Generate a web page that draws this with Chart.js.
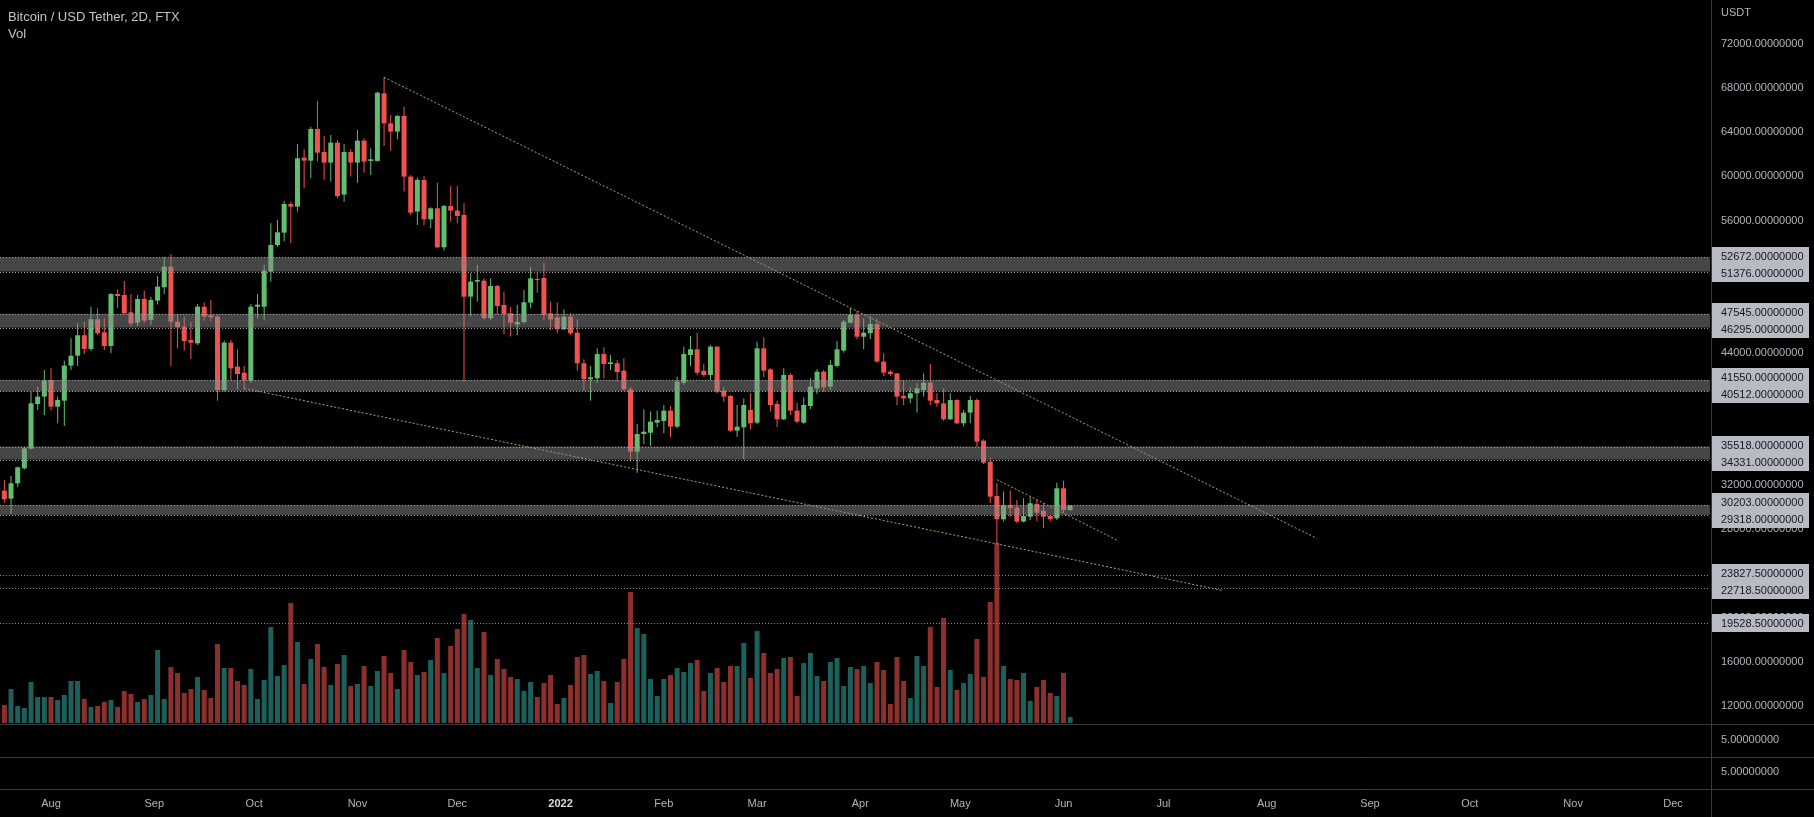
<!DOCTYPE html>
<html>
<head>
<meta charset="utf-8">
<script src="https://cdn.jsdelivr.net/npm/chart.js@4.4.1/dist/chart.umd.min.js"></script>
<style>
  html, body { margin: 0; padding: 0; background: #000; }
  #wrap { position: relative; width: 1814px; height: 817px; }
  .legend { position: absolute; left: 8px; font-family: "Liberation Sans", Arial, sans-serif; color: #c3c5cc; font-size: 13px; line-height: 15px; }
</style>
</head>
<body>
<div id="wrap">
  <canvas id="myChart" width="1814" height="817"></canvas>
  <div class="legend" style="top:9px">Bitcoin / USD Tether, 2D, FTX</div>
  <div class="legend" style="top:26px">Vol</div>
</div>
<script>
// BTC/USDT 2D candles, first candle 2021-07-16
const firstCandle = '2021-07-16';
const candleDays = 2;

const opens = [31880,31520,30790,32180,33540,35320,39370,40040,41550,39130,39670,42850,43750,45600,44360,47050,45870,44630,49340,49250,
47680,46740,48890,46990,48740,49950,51820,46830,46380,45170,44870,48190,47410,47290,40640,44930,42760,42210,41490,48190,
48190,51370,53780,54900,57500,57260,61700,61430,64300,62210,61250,63060,58350,62210,61250,63240,61400,61400,67530,64810,
64060,65480,59980,56810,59680,56110,57110,53570,57320,56900,56500,49100,50460,50550,47140,50070,48350,47590,46590,46780,
48560,50700,50790,47590,47230,46140,47290,45840,43060,41610,41700,43900,43000,43060,42390,40700,35050,36650,36770,37680,
37830,38770,37320,41300,43810,44330,42390,42000,44570,40580,40100,36950,37260,38830,37680,44420,42510,39370,37980,42000,
38770,37680,39190,40790,42300,40940,42820,44210,46740,47440,45470,45780,46620,43210,42300,42150,40100,39880,40340,40640,
41300,39730,39430,37980,39730,37620,38590,39730,36050,34150,31030,28920,30220,29980,28710,29160,30310,29700,29220,29010,
31730,29760];
const highs = [31950,32480,32850,33700,35500,40490,40940,42450,42600,40040,43300,45320,46680,46830,48190,48040,47140,49400,49760,50520,
49340,49250,49640,49100,50970,52670,52970,47440,47290,46830,48440,48560,48800,47440,45100,45170,44330,42820,48440,49340,
51970,55750,56050,57770,57710,62940,62450,64510,66860,63660,63750,63300,62940,62450,64210,63450,62540,67680,68980,65570,
65570,66320,60130,59890,60040,57200,59430,57410,59130,59130,57560,51220,51970,50760,50760,50160,49550,48190,48350,49710,
51820,51360,52180,48650,48560,47950,47590,47040,43420,42820,44420,44510,43810,43360,43510,40880,37560,38890,38680,38770,
39280,39190,41850,44570,45530,45840,43000,44720,44600,40940,40190,39280,39880,40340,45020,45410,42600,39670,42600,42150,
39490,39980,41700,42510,42450,43360,45110,46980,48040,47830,47140,47290,47050,43960,42450,42160,41550,40880,41240,42150,
43000,40340,40790,40340,39790,38830,40100,39880,36170,34450,32180,31430,31520,30670,30820,30970,30670,30370,29310,32240,
32420,30220];
const lows = [31400,30430,29400,31820,33450,35260,38830,38380,38770,37620,37380,42450,42820,43870,44180,45600,44270,43960,48040,47530,
46380,46440,46680,46530,48400,49340,42820,44420,44210,43450,44720,46920,46830,39670,40500,41550,40700,40700,41300,47140,
46930,50460,53630,54090,53940,56810,58920,59830,61340,59680,59520,58010,57710,59980,59430,60340,60130,61340,62760,62330,
63360,58620,56500,55600,55600,55290,53480,53270,55900,55750,41400,47290,48650,46990,46990,47440,45720,45480,45630,46680,
48040,49450,47000,46080,45780,46080,45620,42390,40580,39670,41300,41700,42450,41400,40580,34150,33150,35750,35560,37260,
36710,36350,37170,41090,42820,42000,41850,41550,40340,39580,36860,36410,34360,37080,37560,41790,38680,37260,37920,38370,
37620,37560,38890,40280,40490,40640,42690,44020,46680,45230,44330,45230,43120,41910,41910,39280,39280,39430,38590,40040,
39280,39130,37860,37920,37560,37320,37620,35500,33930,30370,26700,28710,29160,28560,28650,28860,28710,28100,28710,28860,
29520,29700];
const closes = [31520,30730,32180,33630,35350,39430,40040,41490,39130,39740,42850,43750,45600,44360,47050,45780,44630,49340,49160,47590,
46680,48890,46930,48800,50010,51820,46830,46320,45080,44930,48190,47290,47230,40640,44930,42600,42090,41550,48190,48370,
51460,53780,54930,57500,57260,61640,61430,64300,62150,61250,63060,58220,62210,61250,63240,61340,61550,67590,64810,64060,
65480,59980,56710,59680,56110,57110,53570,57320,56900,56410,49100,50460,50610,47140,50070,48250,47530,46740,46810,48590,
50760,50600,47440,47040,46140,47290,45780,43060,41610,41790,43900,43000,43150,42270,40700,35050,36650,36860,37770,37920,
38770,37320,41400,43900,44330,42210,42000,44570,40490,40040,36950,37320,39280,37620,44420,42390,39280,37980,42000,38770,
37770,39280,40940,42300,40880,42910,44330,46830,47440,45470,45840,46620,43210,42210,42090,40040,39880,40340,40790,41300,
39670,39430,37980,39730,37620,38590,39730,35960,34050,30970,28920,30220,29920,28710,29220,30370,29520,29160,28920,31730,
29760,30130];
const volume = [15,18,34,17,15,41,26,26,26,23,28,42,42,24,16,17,21,23,16,32,
29,21,24,28,73,24,56,50,30,34,46,33,25,79,55,55,42,38,54,24,
43,96,47,58,120,81,39,64,79,56,38,59,68,37,39,57,37,52,67,50,
34,73,61,48,51,63,85,50,77,94,109,103,55,91,48,64,54,46,44,32,
41,26,40,48,19,25,38,66,68,49,52,42,20,41,64,131,95,89,44,27,
44,48,55,51,60,63,32,50,55,41,57,57,80,45,92,70,50,54,65,66,
27,60,70,47,42,61,65,37,56,54,57,40,61,53,19,66,42,25,67,57,
96,36,105,53,33,40,49,84,46,121,180,57,44,43,50,22,36,43,30,27,
50,6];

// support / resistance zones (top, bottom) and single levels
const zoneTops = [52672, 47545, 41550, 35518, 30203];
const zoneBottoms = [51376, 46295, 40512, 34331, 29318];
const levels = [23827.5, 22718.5, 19528.5];

// trend lines [date, price]
const trendUpper = [['2021-11-09', 68980], ['2022-08-16', 27200]];
const trendLower = [['2021-09-28', 40790], ['2022-07-19', 22450]];
const trendShort = [['2022-05-12', 32510], ['2022-06-17', 27040]];

const priceTicks = [12000,16000,20000,24000,28000,32000,36000,40000,44000,48000,52000,56000,60000,64000,68000,72000];
const monthTicks = ['2021-08-01','2021-09-01','2021-10-01','2021-11-01','2021-12-01','2022-01-01','2022-02-01','2022-03-01','2022-04-01',
  '2022-05-01','2022-06-01','2022-07-01','2022-08-01','2022-09-01','2022-10-01','2022-11-01','2022-12-01'];
const monthLabels = ['Aug','Sep','Oct','Nov','Dec','2022','Feb','Mar','Apr','May','Jun','Jul','Aug','Sep','Oct','Nov','Dec'];

const upColor = '#63bd6e';
const downColor = '#ef5350';
const volUp = '#1d5f5a';
const volDown = '#8b302d';
const textColor = '#b2b5be';
const lineColor = '#363a45';
const fontFamily = '"Liberation Sans", Arial, sans-serif';

const epoch = Date.UTC(2021, 7, 1);
function dayOf(s) {
    return (Date.parse(s + 'T00:00:00Z') - epoch) / 864e5;
}
const startDay = dayOf(firstCandle);
let days = opens.map((o, i) => startDay + i * candleDays);
let isUp = opens.map((o, i) => closes[i] >= o);

let wickData = days.map((d, i) => ({ x: d, y: [lows[i], highs[i]] }));
let bodyData = days.map((d, i) => ({ x: d, y: [opens[i], closes[i]] }));
let volData = days.map((d, i) => ({ x: d, y: volume[i] }));
let candleColors = isUp.map(u => u ? upColor : downColor);
let volColors = isUp.map(u => u ? volUp : volDown);

function trendData(t) {
    return t.map(p => ({ x: dayOf(p[0]), y: p[1] }));
}

function hLine(ctx, x1, x2, y, color, dash) {
    ctx.save();
    ctx.strokeStyle = color;
    ctx.lineWidth = 1;
    ctx.setLineDash(dash || []);
    ctx.beginPath();
    ctx.moveTo(x1, Math.round(y) + 0.5);
    ctx.lineTo(x2, Math.round(y) + 0.5);
    ctx.stroke();
    ctx.restore();
}

function labelBox(ctx, x, y, text) {
    ctx.fillStyle = '#b8bbc3';
    ctx.fillRect(x, Math.round(y) - 9, 97, 18);
    ctx.fillStyle = '#131722';
    ctx.font = '11px ' + fontFamily;
    ctx.textBaseline = 'middle';
    ctx.textAlign = 'left';
    ctx.fillText(text, x + 9, Math.round(y) + 0.5);
}

// afasta rótulos que se sobrepõem no eixo
function spreadLabels(items) {
    items.sort((a, b) => a.y - b.y);
    for (let i = 1; i < items.length; i++) {
        let gap = items[i].y - items[i - 1].y;
        if (gap < 17) {
            let mid = (items[i].y + items[i - 1].y) / 2;
            items[i - 1].y = mid - 8.5;
            items[i].y = mid + 8.5;
        }
    }
    return items;
}

// Zonas e níveis
const zonesPlugin = {
    id: 'zones',
    afterDatasetsDraw(chart) {
        const { ctx, chartArea, scales } = chart;
        const y = scales.y;
        ctx.save();
        zoneTops.forEach((top, i) => {
            let y1 = y.getPixelForValue(top);
            let y2 = y.getPixelForValue(zoneBottoms[i]);
            ctx.fillStyle = 'rgba(140,140,140,0.5)';
            ctx.fillRect(chartArea.left, y1, chartArea.right - chartArea.left, y2 - y1);
            hLine(ctx, chartArea.left, chartArea.right, y1, '#a0a0a0', [1, 2]);
            hLine(ctx, chartArea.left, chartArea.right, y2, '#a0a0a0', [1, 2]);
        });
        levels.forEach(v => {
            hLine(ctx, chartArea.left, chartArea.right, y.getPixelForValue(v), '#8a8a8a', [1, 2]);
        });
        ctx.restore();
    },
    afterDraw(chart) {
        const { ctx, chartArea, scales, width, height } = chart;
        const y = scales.y;
        const base = scales.yv.getPixelForValue(0);
        ctx.save();
        // separadores de painel
        hLine(ctx, 0, width, base + 1, lineColor);
        hLine(ctx, 0, width, base + 34, lineColor);
        hLine(ctx, 0, width, chartArea.bottom, lineColor);
        ctx.strokeStyle = lineColor;
        ctx.beginPath();
        ctx.moveTo(chartArea.right + 1.5, 0);
        ctx.lineTo(chartArea.right + 1.5, height);
        ctx.stroke();

        ctx.fillStyle = textColor;
        ctx.font = '11px ' + fontFamily;
        ctx.textBaseline = 'middle';
        ctx.fillText('USDT', chartArea.right + 11, 13);
        ctx.fillText((5).toFixed(8), chartArea.right + 11, base + 17);
        ctx.fillText((5).toFixed(8), chartArea.right + 11, base + 49);

        let boxX = chartArea.right + 2;
        let items = [];
        zoneTops.forEach((top, i) => {
            items.push({ v: top, y: y.getPixelForValue(top) });
            items.push({ v: zoneBottoms[i], y: y.getPixelForValue(zoneBottoms[i]) });
        });
        levels.forEach(v => items.push({ v: v, y: y.getPixelForValue(v) }));
        spreadLabels(items).forEach(it => labelBox(ctx, boxX, it.y, it.v.toFixed(8)));
        ctx.restore();
    }
};

const trendStyle = {
    type: 'line',
    borderColor: '#a9a862',
    borderWidth: 1,
    borderDash: [2, 2],
    pointRadius: 0,
    fill: false,
    yAxisID: 'y',
    order: 0
};

const ctx = document.getElementById('myChart');

new Chart(ctx, {
    type: 'bar',
    data: {
        datasets: [
            Object.assign({ data: trendData(trendUpper) }, trendStyle),
            Object.assign({ data: trendData(trendLower) }, trendStyle),
            Object.assign({ data: trendData(trendShort) }, trendStyle),
            {
                data: bodyData,
                backgroundColor: candleColors,
                barThickness: 5,
                minBarLength: 1,
                grouped: false,
                inflateAmount: 0,
                yAxisID: 'y',
                order: 1
            },
            {
                data: wickData,
                backgroundColor: candleColors,
                barThickness: 1,
                grouped: false,
                inflateAmount: 0,
                yAxisID: 'y',
                order: 2
            },
            {
                data: volData,
                backgroundColor: volColors,
                barThickness: 5,
                grouped: false,
                inflateAmount: 0,
                yAxisID: 'yv',
                order: 3
            }
        ]
    },
    options: {
        responsive: false,
        animation: false,
        devicePixelRatio: 1,
        layout: { padding: 0, autoPadding: false },
        plugins: {
            legend: { display: false },
            tooltip: { enabled: false }
        },
        scales: {
            x: {
                type: 'linear',
                min: -15.31,
                max: 498.1,
                offset: false,
                grid: { display: false, drawTicks: false },
                border: { display: false },
                afterBuildTicks: s => { s.ticks = monthTicks.map(m => ({ value: dayOf(m) })); },
                afterFit: s => {
                    s.height = 28;
                    s.paddingLeft = 0; s.paddingRight = 0; s.paddingTop = 0; s.paddingBottom = 0;
                },
                ticks: {
                    autoSkip: false,
                    maxRotation: 0,
                    padding: 8,
                    callback: (v, i) => monthLabels[i],
                    color: c => c.index === 5 ? '#d8dae0' : textColor,
                    font: c => ({ family: fontFamily, size: 11, weight: c.index === 5 ? 'bold' : 'normal' })
                }
            },
            y: {
                position: 'right',
                min: 4475,
                max: 75988,
                grid: { display: false, drawTicks: false },
                border: { display: false },
                afterBuildTicks: s => { s.ticks = priceTicks.map(v => ({ value: v })); },
                afterFit: s => {
                    s.width = 104;
                    s.paddingLeft = 0; s.paddingRight = 0; s.paddingTop = 0; s.paddingBottom = 0;
                },
                ticks: {
                    padding: 11,
                    color: textColor,
                    font: { family: fontFamily, size: 11 },
                    callback: v => v.toFixed(8)
                }
            },
            yv: {
                display: false,
                min: -66,
                max: 723
            }
        }
    },
    plugins: [zonesPlugin]
});
</script>
</body>
</html>
